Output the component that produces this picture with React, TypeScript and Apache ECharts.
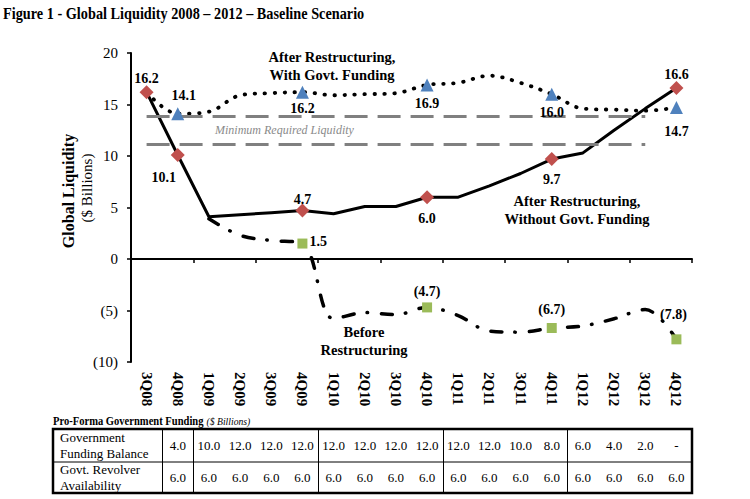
import React, { useEffect, useRef } from 'react';
import * as echarts from 'echarts';

const quarters = ['3Q08', '4Q08', '1Q09', '2Q09', '3Q09', '4Q09', '1Q10', '2Q10', '3Q10', '4Q10', '1Q11', '2Q11', '3Q11', '4Q11', '1Q12', '2Q12', '3Q12', '4Q12'];
const withoutGovtFunding = [16.2, 10.1, 4.1, 4.3, 4.5, 4.7, 4.4, 5.1, 5.1, 6.0, 6.0, 7.1, 8.3, 9.7, 10.3, 12.5, 14.6, 16.6];
const withGovtFunding = [16.2, 14.1, 14.3, 15.9, 16.1, 16.2, 15.9, 16.0, 16.1, 16.9, 17.1, 17.8, 17.1, 16.0, 14.6, 14.5, 14.4, 14.7];
const beforeRestructuring = [null, null, 3.9, 2.3, 1.8, 1.5, -5.8, -5.2, -5.4, -4.7, -5.5, -7.0, -7.1, -6.7, -6.5, -5.8, -4.9, -7.8];
const minLiquidityLevels = [13.9, 11.1];
const minLiquiditySpan = ['3Q08', '3Q12'];
const diamondIdx = [0, 1, 5, 9, 13, 17];
const triangleIdx = [1, 5, 9, 13, 17];
const squareIdx = [5, 9, 13, 17];

const tableQuarters = ['4Q08', '1Q09', '2Q09', '3Q09', '4Q09', '1Q10', '2Q10', '3Q10', '4Q10', '1Q11', '2Q11', '3Q11', '4Q11', '1Q12', '2Q12', '3Q12', '4Q12'];
const govtFundingBalance = [4.0, 10.0, 12.0, 12.0, 12.0, 12.0, 12.0, 12.0, 12.0, 12.0, 12.0, 10.0, 8.0, 6.0, 4.0, 2.0, 0];
const govtRevolverAvailability = [6.0, 6.0, 6.0, 6.0, 6.0, 6.0, 6.0, 6.0, 6.0, 6.0, 6.0, 6.0, 6.0, 6.0, 6.0, 6.0, 6.0];
const tableRowLabels = ['Government\nFunding Balance', 'Govt. Revolver\nAvailability'];

// label placement styling (per marked point)
const diamondLabelPos: Record<number, any> = {
  0: { position: 'top', distance: 0 },
  1: { position: 'bottom', distance: 9, offset: [-14, 0] },
  5: { position: 'top', distance: -3 },
  9: { position: 'bottom', distance: 7 },
  13: { position: 'bottom', distance: 6 },
  17: { position: 'top', distance: 0 },
};
const triangleLabelPos: Record<number, any> = {
  1: { position: 'top', distance: 5, offset: [6, 0] },
  5: { position: 'bottom', distance: 3 },
  9: { position: 'bottom', distance: 5 },
  13: { position: 'bottom', distance: 5 },
  17: { position: 'bottom', distance: 10 },
};
const squareLabelPos: Record<number, any> = {
  5: { position: 'right', distance: 2, offset: [0, -2] },
  9: { position: 'top', distance: 4 },
  13: { position: 'top', distance: 7 },
  17: { position: 'top', distance: 13, offset: [-3, 0] },
};

const SERIF = 'Liberation Serif';

const fmt = (v: number) => (v < 0 ? `(${Math.abs(v).toFixed(1)})` : v.toFixed(1));

function markerData(values: (number | null)[], idx: number[], pos: Record<number, any>) {
  return idx.map((i) => ({
    value: [quarters[i], values[i]],
    label: { show: true, ...pos[i] },
  }));
}

function txt(text: string, x: number, y: number, opts: any = {}) {
  const { rotation, scaleX, ...style } = opts;
  const transformed = rotation !== undefined || scaleX !== undefined;
  const el: any = {
    type: 'text',
    silent: true,
    style: {
      text,
      x: transformed ? 0 : x,
      y: transformed ? 0 : y,
      align: 'center',
      verticalAlign: 'middle',
      fontFamily: SERIF,
      fontSize: 14,
      fill: '#000',
      ...style,
    },
  };
  if (transformed) {
    el.x = x;
    el.y = y;
    if (rotation !== undefined) el.rotation = rotation;
    if (scaleX !== undefined) el.scaleX = scaleX;
  }
  return el;
}

export default function App() {
  const ref = useRef<HTMLDivElement>(null);
  useEffect(() => {
    document.body.style.margin = '0';
    const chart = echarts.init(ref.current!, undefined, { renderer: 'svg' });
    const labelStyle = {
      fontFamily: SERIF,
      fontWeight: 'bold' as const,
      fontSize: 14,
      color: '#000',
      formatter: (p: any) => fmt(p.value[1]),
    };
    const option: any = {
      animation: false,
      backgroundColor: '#fff',
      grid: { left: 131, right: 58, top: 53, bottom: 137, containLabel: false },
      xAxis: [
        {
          type: 'category',
          data: quarters,
          position: 'bottom',
          axisLine: { onZero: true, lineStyle: { color: '#000', width: 2 } },
          axisTick: { show: true, length: 4, lineStyle: { color: '#000', width: 1.5 } },
          axisLabel: { show: false },
          splitLine: { show: false },
        },
        {
          type: 'category',
          data: quarters,
          position: 'bottom',
          axisLine: { show: false, onZero: false },
          axisTick: { show: false },
          axisLabel: {
            show: true,
            interval: 0,
            rotate: -90,
            margin: 10,
            fontFamily: SERIF,
            fontWeight: 'bold',
            fontSize: 15,
            color: '#000',
          },
        },
      ],
      yAxis: {
        type: 'value',
        min: -10,
        max: 20,
        interval: 5,
        axisLine: { show: true, lineStyle: { color: '#000', width: 2 } },
        axisTick: { show: true, length: 4, lineStyle: { color: '#000', width: 1.5 } },
        splitLine: { show: false },
        axisLabel: {
          margin: 13,
          fontFamily: SERIF,
          fontSize: 15,
          color: '#000',
          formatter: (v: number) => (v < 0 ? `(${Math.abs(v)})` : `${v}`),
        },
      },
      series: [
        {
          name: 'Before Restructuring',
          type: 'line',
          data: beforeRestructuring,
          smooth: 0.35,
          symbol: 'none',
          connectNulls: false,
          lineStyle: { color: '#000', width: 3.5, type: [11, 13, 0.5, 14], cap: 'round' },
          z: 2,
        },
        {
          name: 'After Restructuring, With Govt. Funding',
          type: 'line',
          data: withGovtFunding,
          smooth: 0.35,
          symbol: 'none',
          lineStyle: { color: '#000', width: 3.8, type: [0.5, 9.5], cap: 'round' },
          z: 3,
        },
        {
          name: 'After Restructuring, Without Govt. Funding',
          type: 'line',
          data: withoutGovtFunding,
          symbol: 'none',
          lineStyle: { color: '#000', width: 3 },
          z: 4,
          markLine: {
            silent: true,
            symbol: 'none',
            label: { show: false },
            lineStyle: { color: '#808080', width: 3, type: [23, 10] },
            data: minLiquidityLevels.map((v) => [
              { coord: [minLiquiditySpan[0], v] },
              { coord: [minLiquiditySpan[1], v] },
            ]),
          },
        },
        {
          type: 'scatter',
          symbol: 'rect',
          symbolSize: 10,
          itemStyle: { color: '#9BBB59', opacity: 1 },
          data: markerData(beforeRestructuring, squareIdx, squareLabelPos),
          label: labelStyle,
          z: 5,
        },
        {
          type: 'scatter',
          symbol: 'triangle',
          symbolSize: 13,
          itemStyle: { color: '#4F81BD', opacity: 1 },
          data: markerData(withGovtFunding, triangleIdx, triangleLabelPos),
          label: labelStyle,
          z: 5,
        },
        {
          type: 'scatter',
          symbol: 'diamond',
          symbolSize: 14,
          itemStyle: { color: '#C0504D', opacity: 1 },
          data: markerData(withoutGovtFunding, diamondIdx, diamondLabelPos),
          label: labelStyle,
          z: 6,
        },
      ],
    };
    chart.setOption(option);

    // Build table & annotations aligned to the category axis
    const cx = tableQuarters.map((q) => chart.convertToPixel({ xAxisIndex: 0 }, q) as number);
    const band = cx[1] - cx[0];
    const tableLeft = 53;
    const tableTop = 429;
    const tableMid = 462;
    const tableBottom = 493;
    const tableRight = cx[cx.length - 1] + band / 2;
    const g: any[] = [];

    // figure title (condensed)
    g.push(txt('Figure 1 - Global Liquidity 2008 \u2013 2012 \u2013 Baseline Scenario', 3, 13, {
      align: 'left', fontWeight: 'bold', fontSize: 17, scaleX: 0.84,
    }));

    // annotations
    const boldAnn = { fontWeight: 'bold', fontSize: 14.5, lineHeight: 18 };
    g.push(txt('After Restructuring,\nWith Govt. Funding', 332, 66, boldAnn));
    g.push(txt('After Restructuring,\nWithout Govt. Funding', 577, 210, boldAnn));
    g.push(txt('Before\nRestructuring', 364, 341, boldAnn));
    g.push(txt('Minimum Required Liquidity', 215, 130, { align: 'left', fontStyle: 'italic', fontSize: 12, fill: '#8a8a8a' }));
    g.push(txt('Global Liquidity', 68, 191, { rotation: Math.PI / 2, fontWeight: 'bold', fontSize: 16 }));
    g.push(txt('($ Billions)', 87, 188, { rotation: Math.PI / 2, fontSize: 15 }));

    // table title
    g.push({
      type: 'text', silent: true, x: tableLeft, y: 421, scaleX: 0.88,
      style: {
        text: '{b|Pro-Forma Government Funding} {i|($ Billions)}',
        x: 0, y: 0, align: 'left', verticalAlign: 'middle',
        rich: {
          b: { fontFamily: SERIF, fontWeight: 'bold', fontSize: 12, fill: '#000' },
          i: { fontFamily: SERIF, fontStyle: 'italic', fontSize: 11, fill: '#000' },
        },
      },
    });
    // table grid
    g.push({
      type: 'line', silent: true,
      shape: { x1: tableLeft, y1: tableMid, x2: tableRight, y2: tableMid },
      style: { stroke: '#000', lineWidth: 1 },
    });
    tableQuarters.forEach((q, i) => {
      if (i === 0 || q.startsWith('1Q')) {
        const x = Math.round(cx[i] - band / 2) + 0.5;
        g.push({
          type: 'line', silent: true,
          shape: { x1: x, y1: tableTop, x2: x, y2: tableBottom },
          style: { stroke: '#000', lineWidth: 1 },
        });
      }
    });
    g.push({
      type: 'rect', silent: true,
      shape: { x: tableLeft, y: tableTop, width: tableRight - tableLeft, height: tableBottom - tableTop },
      style: { fill: 'none', stroke: '#000', lineWidth: 2.5 },
    });
    const rowMids = [(tableTop + tableMid) / 2, (tableMid + tableBottom) / 2];
    tableRowLabels.forEach((t, r) => {
      g.push(txt(t, 60, rowMids[r], { align: 'left', lineHeight: 16, fontSize: 13 }));
    });
    const rows = [govtFundingBalance, govtRevolverAvailability];
    rows.forEach((vals, r) => {
      vals.forEach((v, i) => {
        g.push(txt(v === 0 ? '-' : v.toFixed(1), cx[i], rowMids[r], { fontSize: 13 }));
      });
    });

    chart.setOption({ graphic: g });
    return () => chart.dispose();
  }, []);
  return <div ref={ref} style={{ width: 750, height: 499 }} />;
}
